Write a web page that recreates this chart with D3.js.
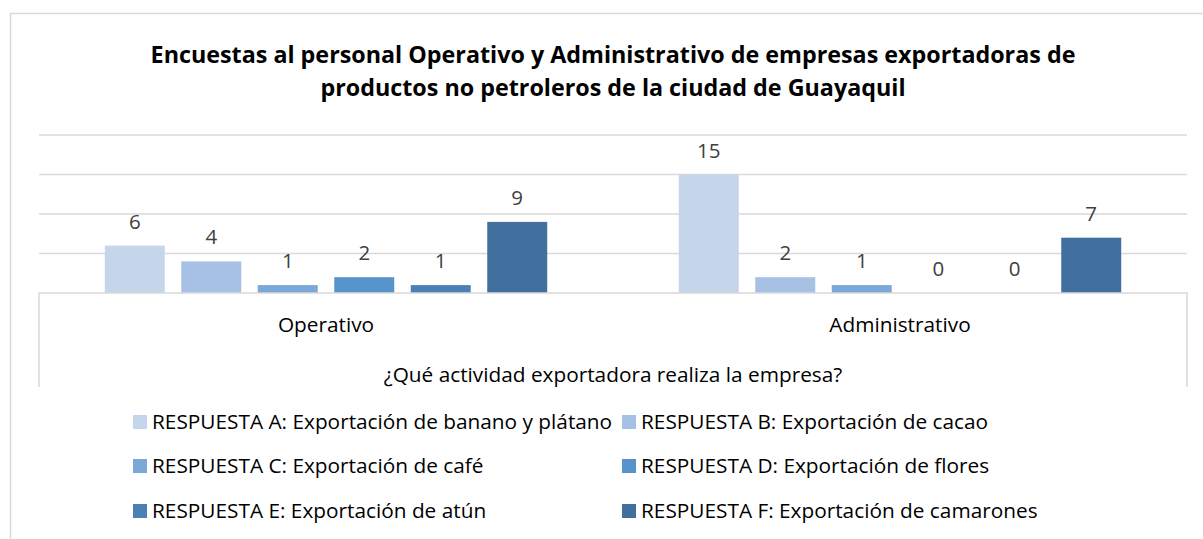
<!DOCTYPE html>
<html lang="es">
  <head>
    <meta charset="utf-8">
    <title>Encuestas actividad exportadora</title>
    <style>
      body { margin: 0; background: #fff; }
      text { font-family: 'Open Sans', Lato, sans-serif; }
    </style>
  </head>
  <body>
    <div id="chart-area"></div>
    <script src="https://cdn.jsdelivr.net/npm/d3@7"></script>
    <script>
      const svg_width = 1203;
      const svg_height = 539;

      // data
      const categories = ['Operativo', 'Administrativo'];
      const series = [
        'RESPUESTA A: Exportación de banano y plátano',
        'RESPUESTA B: Exportación de cacao',
        'RESPUESTA C: Exportación de café',
        'RESPUESTA D: Exportación de flores',
        'RESPUESTA E: Exportación de atún',
        'RESPUESTA F: Exportación de camarones'
      ];
      const operativo_values = [6, 4, 1, 2, 1, 9];
      const administrativo_values = [15, 2, 1, 0, 0, 7];
      const colors = ['#c5d5ea', '#a7c1e4', '#7ca7d9', '#5694cb', '#4a80b6', '#42709e'];
      const title_lines = [
        'Encuestas al personal Operativo y Administrativo de empresas exportadoras de',
        'productos no petroleros de la ciudad de Guayaquil'
      ];
      const axis_title = '¿Qué actividad exportadora realiza la empresa?';

      const values = [operativo_values, administrativo_values];
      const rows = [];
      categories.forEach((c, i) => {
        series.forEach((s, j) => {
          rows.push({ category: c, series: s, idx: j, value: values[i][j] });
        });
      });

      const plot_left = 39;
      const plot_right = 1187;
      const plot_bottom = 293;
      const plot_top = 135;
      const font_size = '20.8px';

      const svg = d3.select('#chart-area')
        .append('svg')
        .attr('width', svg_width)
        .attr('height', svg_height);

      svg.append('rect')
        .attr('width', svg_width).attr('height', svg_height)
        .attr('fill', '#fff');

      // chart area border (right and bottom edges fall outside the picture)
      svg.append('rect')
        .attr('x', 10.5).attr('y', 13.5)
        .attr('width', 1220).attr('height', 560)
        .attr('fill', 'none')
        .attr('stroke', '#d9d9d9')
        .attr('stroke-width', 1.5);

      const x0 = d3.scaleBand()
        .domain(categories)
        .range([plot_left, plot_right]);

      const x1 = d3.scaleBand()
        .domain(series)
        .range([0, x0.bandwidth()])
        .paddingInner(0.216)
        .paddingOuter(0.86);

      const y = d3.scaleLinear()
        .domain([0, 20])
        .range([plot_bottom, plot_top]);

      // gridlines
      svg.append('g')
        .selectAll('line')
        .data(y.ticks(4).filter(d => d > 0))
        .enter()
        .append('line')
        .attr('x1', plot_left).attr('x2', plot_right)
        .attr('y1', d => y(d)).attr('y2', d => y(d))
        .attr('stroke', '#d9d9d9')
        .attr('stroke-width', 1.5);

      // bars
      svg.append('g')
        .selectAll('rect')
        .data(rows)
        .enter()
        .append('rect')
        .attr('x', d => x0(d.category) + x1(d.series))
        .attr('y', d => y(d.value))
        .attr('width', x1.bandwidth())
        .attr('height', d => y(0) - y(d.value))
        .attr('fill', d => colors[d.idx]);

      // data labels
      svg.append('g')
        .selectAll('text')
        .data(rows)
        .enter()
        .append('text')
        .attr('x', d => x0(d.category) + x1(d.series) + x1.bandwidth() / 2)
        .attr('y', d => y(d.value) - 17)
        .attr('text-anchor', 'middle')
        .attr('font-size', '20.5px')
        .attr('fill', '#404040')
        .text(d => d.value);

      // category axis box
      const axis_bottom = 387;
      svg.append('path')
        .attr('d', `M${plot_left},${axis_bottom}V${plot_bottom}H${plot_right}V${axis_bottom}`)
        .attr('fill', 'none')
        .attr('stroke', '#d9d9d9')
        .attr('stroke-width', 1.5);

      svg.append('g')
        .selectAll('text')
        .data(categories)
        .enter()
        .append('text')
        .attr('x', d => x0(d) + x0.bandwidth() / 2)
        .attr('y', 332)
        .attr('text-anchor', 'middle')
        .attr('font-size', font_size)
        .attr('fill', '#000')
        .text(d => d);

      svg.append('text')
        .attr('x', (plot_left + plot_right) / 2)
        .attr('y', 382)
        .attr('text-anchor', 'middle')
        .attr('font-size', font_size)
        .attr('fill', '#000')
        .text(axis_title);

      // title
      svg.append('g')
        .selectAll('text')
        .data(title_lines)
        .enter()
        .append('text')
        .attr('x', 613)
        .attr('y', (d, i) => 63 + i * 33)
        .attr('text-anchor', 'middle')
        .attr('font-size', '23.3px')
        .attr('font-weight', 'bold')
        .attr('fill', '#000')
        .text(d => d);

      // legend
      const legend_x = [133, 622];
      const legend_y = [422, 466, 511];
      const legend = svg.append('g')
        .selectAll('g')
        .data(series)
        .enter()
        .append('g')
        .attr('transform', (d, i) => `translate(${legend_x[i % 2]},${legend_y[Math.floor(i / 2)]})`);

      legend.append('rect')
        .attr('x', 0).attr('y', -7)
        .attr('width', 14).attr('height', 14)
        .attr('fill', (d, i) => colors[i]);

      legend.append('text')
        .attr('x', 19)
        .attr('y', 7)
        .attr('font-size', font_size)
        .attr('fill', '#000')
        .text(d => d);
    </script>
  </body>
</html>
